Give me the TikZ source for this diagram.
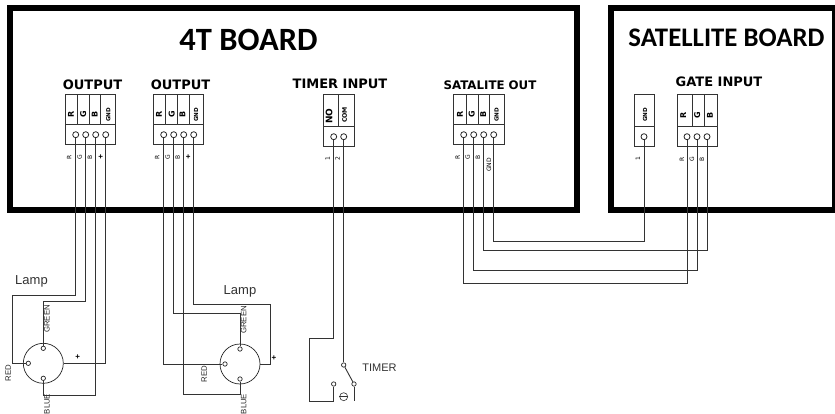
\documentclass[tikz,border=0pt]{standalone}
\usepackage{fontspec}
\setmainfont{Liberation Sans}
\newfontfamily\titlefont{Carlito}
\newfontfamily\headfont{DejaVu Sans}
\tikzset{
  x=1pt,y=-1pt,
  board/.style={draw=black,line width=6pt,fill=white},
  blockbox/.style={draw=black!80,line width=0.9pt,fill=white},
  contact/.style={circle,draw=black!85,line width=0.8pt,fill=white,minimum size=6pt,inner sep=0pt},
  tiny contact/.style={circle,draw=black!85,line width=0.7pt,fill=white,minimum size=4.4pt,inner sep=0pt},
  wire/.style={draw=black!80,line width=0.9pt},
  head/.style={font=\headfont\bfseries\fontsize{13}{15}\selectfont,inner sep=0pt},
  boardtitle/.style={inner sep=0pt},
  pin/.style={font=\headfont\bfseries\fontsize{8}{9}\selectfont,rotate=90,inner sep=0pt},
  gnd/.style={font=\headfont\bfseries\fontsize{5.6}{7}\selectfont,rotate=90,inner sep=0pt},
  wirelabel/.style={font=\headfont\fontsize{6}{7}\selectfont,rotate=90,inner sep=0pt},
  lamplabel/.style={font=\fontsize{7.8}{9}\selectfont,rotate=90,inner sep=0pt,text=black!85},
  plus/.style={font=\bfseries\fontsize{8}{9}\selectfont,inner sep=0pt},
  note/.style={font=\fontsize{13}{15}\selectfont,inner sep=0pt,text=black!80},
}
\newcommand{\blockfour}[5]{% outline and dividers
  \draw[blockbox] (#1,94.3) rectangle (#5,144.7);
  \draw[blockbox] (#1,124.3) -- (#5,124.3);
  \draw[blockbox] (#2,94.3) -- (#2,124.3) (#3,94.3) -- (#3,124.3) (#4,94.3) -- (#4,124.3);
}
\begin{document}
\begin{tikzpicture}
\useasboundingbox (0,0) rectangle (835,414);
\fill[white] (0,0) rectangle (835,414);
% boards
\draw[board] (10.3,8) rectangle (576.7,210.3);
\draw[board] (610.7,8) rectangle (834.7,210.3);
\node[boardtitle,font=\titlefont\bfseries\fontsize{32.5}{36}\selectfont] (t4) at (248.5,39.5) {4T BOARD};
\node[boardtitle,font=\titlefont\bfseries\fontsize{26.8}{30}\selectfont] (tsat) at (726.5,37.5) {SATELLITE BOARD};
% heads
\node[head] (h1) at (92.5,85) {OUTPUT};
\node[head] (h2) at (180.5,85) {OUTPUT};
\node[head] (h3) at (340,84) {TIMER INPUT};
\node[head,font=\headfont\bfseries\fontsize{11.8}{14}\selectfont] (h4) at (490,85) {SATALITE OUT};
\node[head] (h5) at (719,82) {GATE INPUT};
% blocks
\blockfour{65.3}{77.3}{89.7}{100.7}{115.7}
\blockfour{153.7}{165.7}{177.7}{189}{203.7}
\blockfour{453.7}{466}{478}{489.3}{504}
\draw[blockbox] (323.7,94.3) rectangle (354,146.7);
\draw[blockbox] (323.7,126.7) -- (354,126.7) (338.7,94.3) -- (338.7,126.7);
\draw[blockbox] (634,94.3) rectangle (654.3,146.7);
\draw[blockbox] (634,126.7) -- (654.3,126.7);
\draw[blockbox] (677.3,94.3) rectangle (717.3,146.7);
\draw[blockbox] (677.3,126.7) -- (717.3,126.7) (692.3,94.3) -- (692.3,126.7) (704.3,94.3) -- (704.3,126.7);
% pin texts
\foreach \n/\x/\t in {a/71/R,b/83.3/G,c/94.8/B,d/159/R,e/171.7/G,f/182.5/B,g/460/R,h/471.7/G,i/483.3/B}
  \node[pin] (p\n) at (\x,114) {\t};
\foreach \n/\x/\t in {j/683.3/R,k/697.3/G,l/710/B}
  \node[pin] (p\n) at (\x,115.7) {\t};
\node[pin,font=\headfont\bfseries\fontsize{9}{10}\selectfont] (pno) at (329,116) {NO};
\node[gnd,font=\headfont\bfseries\fontsize{6.2}{7}\selectfont] (pcom) at (344.5,115) {COM};
\foreach \n/\x/\y in {m/108.3/115,n/196/115,o/496.7/115,p/645/115}
  \node[gnd] (p\n) at (\x,\y) {GND};
% contacts
\foreach \n/\x in {r/75.7,g/85.7,b/95.7,p/105.7}{
  \node[contact] (a\n) at (\x,134.7) {};
}
\foreach \n/\x in {r/163.7,g/173.7,b/183.7,p/193.7}{
  \node[contact] (b\n) at (\x,134.7) {};
}
\foreach \n/\x in {r/463.7,g/473.7,b/483.7,p/493.7}{
  \node[contact] (c\n) at (\x,134.7) {};
}
\node[contact] (tno) at (333.7,136.7) {};
\node[contact] (tcom) at (343.7,136.7) {};
\node[contact] (sg) at (644,136.7) {};
\node[contact] (sr) at (687,136.7) {};
\node[contact] (sgg) at (697,136.7) {};
\node[contact] (sb) at (707,136.7) {};
% wire labels
\foreach \n/\x/\y/\t in {a/69.3/157/R,b/79.7/157/G,c/90/157/B,d/157.3/157/R,e/167.7/157/G,f/177.7/157/B,g/457.7/157/R,h/467.7/157/G,i/478/157/B,j/682/159/R,k/692/159/G,l/702/159/B,m/327.7/159/1,n/337.7/159/2,o/638/159/1}
  \node[wirelabel] (w\n) at (\x,\y) {\t};
\node[plus] (wp1) at (100.7,157) {+};
\node[plus] (wp2) at (188.3,157) {+};
\node[wirelabel] (wgnd) at (489,165) {GND};
% lamp 1
\node[circle,draw=black!85,line width=0.7pt,minimum size=40pt,inner sep=0pt] (L1) at (43.3,363.3) {};
\node[tiny contact] (L1g) at (43.3,348.3) {};
\node[tiny contact] (L1r) at (28.3,363.3) {};
\node[tiny contact] (L1b) at (43.3,378.3) {};
\node[note] (lt1) at (31.5,281.5) {Lamp};
\node[lamplabel] (lg1) at (47,319) {GREEN};
\node[lamplabel] (lr1) at (8.3,373) {RED};
\node[lamplabel] (lb1) at (47,404) {BLUE};
\node[plus] (lp1) at (77.7,357) {+};
\draw[wire] (ar) -- (75.7,295) -- (12.3,295) -- (12.3,363.3) -- (L1r);
\draw[wire] (ag) -- (85.7,301) -- (43.3,301) -- (L1g);
\draw[wire] (ab) -- (95.7,395) -- (43.3,395) -- (L1b);
\draw[wire] (ap) -- (105.7,363.3) -- (L1.east);
% lamp 2
\node[circle,draw=black!85,line width=0.7pt,minimum size=40pt,inner sep=0pt] (L2) at (240,364) {};
\node[tiny contact] (L2g) at (240,349) {};
\node[tiny contact] (L2r) at (225,364) {};
\node[tiny contact] (L2b) at (240,379) {};
\node[note] (lt2) at (240,291) {Lamp};
\node[lamplabel] (lg2) at (243.7,320) {GREEN};
\node[lamplabel] (lr2) at (204.3,374) {RED};
\node[lamplabel] (lb2) at (243.7,404) {BLUE};
\node[plus] (lp2) at (274,358) {+};
\draw[wire] (br) -- (163.7,364) -- (L2r);
\draw[wire] (bg) -- (173.7,313.3) -- (240,313.3) -- (L2g);
\draw[wire] (bb) -- (183.7,394) -- (240,394) -- (L2b);
\draw[wire] (bp) -- (193.7,304) -- (270,304) -- (270,364) -- (L2.east);
% timer
\node[tiny contact] (sw1) at (333.7,384) {};
\node[tiny contact] (sw2) at (343.7,365) {};
\node[tiny contact] (sw3) at (354,384) {};
\coordinate (swend) at (354,401);
\draw[wire] (tno) -- (333.7,338) -- (309.3,338) -- (309.3,401) -- (333.7,401) -- (sw1);
\draw[wire] (tcom) -- (sw2);
\draw[wire] (sw2) -- (sw3);
\draw[wire] (sw3) -- (swend);
\node[circle,draw=black!80,line width=0.6pt,minimum size=8pt,inner sep=0pt] (minus) at (343.7,396.7) {};
\draw[black!80,line width=0.7pt] (minus.west) -- (minus.east);
\node[note,font=\fontsize{11}{13}\selectfont] (tt) at (379.5,367.5) {TIMER};
% satellite link
\draw[wire] (cp) -- (493.7,241) -- (644,241) -- (sg);
\draw[wire] (cb) -- (483.7,250.7) -- (707,250.7) -- (sb);
\draw[wire] (cg) -- (473.7,270) -- (697,270) -- (sgg);
\draw[wire] (cr) -- (463.7,283) -- (687,283) -- (sr);
\end{tikzpicture}
\end{document}
